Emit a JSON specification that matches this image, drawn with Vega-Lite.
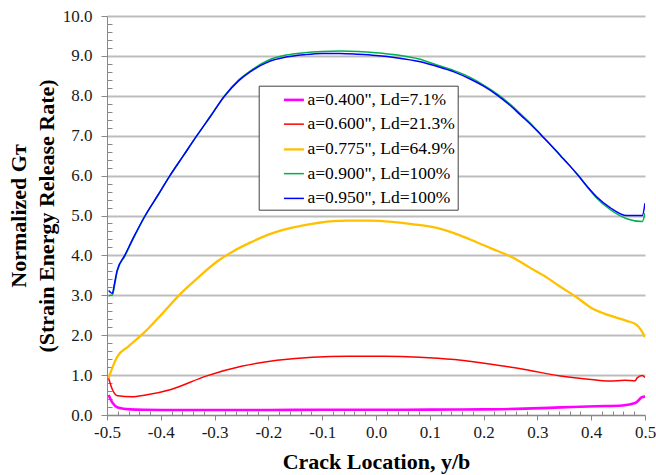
{
  "$schema": "https://vega.github.io/schema/vega-lite/v6.json",
  "width": 538,
  "height": 399,
  "autosize": {"type": "none"},
  "padding": {"left": 107, "top": 16, "right": 11, "bottom": 60},
  "background": "white",
  "config": {"view": {"stroke": null}, "font": "Times New Roman, Liberation Serif, serif"},
  "data": {"values": [
    {"series": "a=0.400\", Ld=7.1%", "x": -0.497, "y": 0.50},
    {"series": "a=0.400\", Ld=7.1%", "x": -0.49, "y": 0.31},
    {"series": "a=0.400\", Ld=7.1%", "x": -0.48, "y": 0.19},
    {"series": "a=0.400\", Ld=7.1%", "x": -0.457, "y": 0.14},
    {"series": "a=0.400\", Ld=7.1%", "x": -0.43, "y": 0.13},
    {"series": "a=0.400\", Ld=7.1%", "x": -0.38, "y": 0.125},
    {"series": "a=0.400\", Ld=7.1%", "x": -0.3, "y": 0.125},
    {"series": "a=0.400\", Ld=7.1%", "x": -0.2, "y": 0.125},
    {"series": "a=0.400\", Ld=7.1%", "x": -0.1, "y": 0.13},
    {"series": "a=0.400\", Ld=7.1%", "x": 0.0, "y": 0.13},
    {"series": "a=0.400\", Ld=7.1%", "x": 0.1, "y": 0.135},
    {"series": "a=0.400\", Ld=7.1%", "x": 0.2, "y": 0.14},
    {"series": "a=0.400\", Ld=7.1%", "x": 0.277, "y": 0.16},
    {"series": "a=0.400\", Ld=7.1%", "x": 0.343, "y": 0.19},
    {"series": "a=0.400\", Ld=7.1%", "x": 0.409, "y": 0.22},
    {"series": "a=0.400\", Ld=7.1%", "x": 0.458, "y": 0.24},
    {"series": "a=0.400\", Ld=7.1%", "x": 0.482, "y": 0.30},
    {"series": "a=0.400\", Ld=7.1%", "x": 0.495, "y": 0.45},
    {"series": "a=0.400\", Ld=7.1%", "x": 0.5, "y": 0.46},

    {"series": "a=0.600\", Ld=21.3%", "x": -0.497, "y": 0.92},
    {"series": "a=0.600\", Ld=21.3%", "x": -0.49, "y": 0.64},
    {"series": "a=0.600\", Ld=21.3%", "x": -0.48, "y": 0.48},
    {"series": "a=0.600\", Ld=21.3%", "x": -0.454, "y": 0.455},
    {"series": "a=0.600\", Ld=21.3%", "x": -0.428, "y": 0.50},
    {"series": "a=0.600\", Ld=21.3%", "x": -0.381, "y": 0.64},
    {"series": "a=0.600\", Ld=21.3%", "x": -0.316, "y": 0.975},
    {"series": "a=0.600\", Ld=21.3%", "x": -0.25, "y": 1.22},
    {"series": "a=0.600\", Ld=21.3%", "x": -0.184, "y": 1.37},
    {"series": "a=0.600\", Ld=21.3%", "x": -0.118, "y": 1.45},
    {"series": "a=0.600\", Ld=21.3%", "x": -0.052, "y": 1.47},
    {"series": "a=0.600\", Ld=21.3%", "x": 0.014, "y": 1.47},
    {"series": "a=0.600\", Ld=21.3%", "x": 0.08, "y": 1.45},
    {"series": "a=0.600\", Ld=21.3%", "x": 0.146, "y": 1.39},
    {"series": "a=0.600\", Ld=21.3%", "x": 0.211, "y": 1.28},
    {"series": "a=0.600\", Ld=21.3%", "x": 0.277, "y": 1.14},
    {"series": "a=0.600\", Ld=21.3%", "x": 0.343, "y": 0.975},
    {"series": "a=0.600\", Ld=21.3%", "x": 0.409, "y": 0.876},
    {"series": "a=0.600\", Ld=21.3%", "x": 0.435, "y": 0.85},
    {"series": "a=0.600\", Ld=21.3%", "x": 0.462, "y": 0.87},
    {"series": "a=0.600\", Ld=21.3%", "x": 0.482, "y": 0.86},
    {"series": "a=0.600\", Ld=21.3%", "x": 0.485, "y": 0.925},
    {"series": "a=0.600\", Ld=21.3%", "x": 0.495, "y": 0.99},
    {"series": "a=0.600\", Ld=21.3%", "x": 0.5, "y": 0.94},

    {"series": "a=0.775\", Ld=64.9%", "x": -0.497, "y": 0.93},
    {"series": "a=0.775\", Ld=64.9%", "x": -0.481, "y": 1.46},
    {"series": "a=0.775\", Ld=64.9%", "x": -0.46, "y": 1.72},
    {"series": "a=0.775\", Ld=64.9%", "x": -0.432, "y": 2.05},
    {"series": "a=0.775\", Ld=64.9%", "x": -0.4, "y": 2.5},
    {"series": "a=0.775\", Ld=64.9%", "x": -0.364, "y": 3.03},
    {"series": "a=0.775\", Ld=64.9%", "x": -0.33, "y": 3.45},
    {"series": "a=0.775\", Ld=64.9%", "x": -0.296, "y": 3.84},
    {"series": "a=0.775\", Ld=64.9%", "x": -0.266, "y": 4.1},
    {"series": "a=0.775\", Ld=64.9%", "x": -0.234, "y": 4.32},
    {"series": "a=0.775\", Ld=64.9%", "x": -0.2, "y": 4.52},
    {"series": "a=0.775\", Ld=64.9%", "x": -0.173, "y": 4.64},
    {"series": "a=0.775\", Ld=64.9%", "x": -0.14, "y": 4.74},
    {"series": "a=0.775\", Ld=64.9%", "x": -0.11, "y": 4.81},
    {"series": "a=0.775\", Ld=64.9%", "x": -0.08, "y": 4.86},
    {"series": "a=0.775\", Ld=64.9%", "x": -0.054, "y": 4.87},
    {"series": "a=0.775\", Ld=64.9%", "x": -0.011, "y": 4.87},
    {"series": "a=0.775\", Ld=64.9%", "x": 0.03, "y": 4.84},
    {"series": "a=0.775\", Ld=64.9%", "x": 0.07, "y": 4.78},
    {"series": "a=0.775\", Ld=64.9%", "x": 0.113, "y": 4.69},
    {"series": "a=0.775\", Ld=64.9%", "x": 0.145, "y": 4.56},
    {"series": "a=0.775\", Ld=64.9%", "x": 0.175, "y": 4.40},
    {"series": "a=0.775\", Ld=64.9%", "x": 0.215, "y": 4.17},
    {"series": "a=0.775\", Ld=64.9%", "x": 0.255, "y": 3.94},
    {"series": "a=0.775\", Ld=64.9%", "x": 0.285, "y": 3.70},
    {"series": "a=0.775\", Ld=64.9%", "x": 0.317, "y": 3.45},
    {"series": "a=0.775\", Ld=64.9%", "x": 0.342, "y": 3.22},
    {"series": "a=0.775\", Ld=64.9%", "x": 0.373, "y": 2.95},
    {"series": "a=0.775\", Ld=64.9%", "x": 0.403, "y": 2.66},
    {"series": "a=0.775\", Ld=64.9%", "x": 0.435, "y": 2.49},
    {"series": "a=0.775\", Ld=64.9%", "x": 0.466, "y": 2.36},
    {"series": "a=0.775\", Ld=64.9%", "x": 0.4845, "y": 2.26},
    {"series": "a=0.775\", Ld=64.9%", "x": 0.493, "y": 2.12},
    {"series": "a=0.775\", Ld=64.9%", "x": 0.5, "y": 1.95},

    {"series": "a=0.900\", Ld=100%", "x": -0.497, "y": 2.98},
    {"series": "a=0.900\", Ld=100%", "x": -0.494, "y": 3.0},
    {"series": "a=0.900\", Ld=100%", "x": -0.49, "y": 3.0},
    {"series": "a=0.900\", Ld=100%", "x": -0.486, "y": 3.25},
    {"series": "a=0.900\", Ld=100%", "x": -0.481, "y": 3.6},
    {"series": "a=0.900\", Ld=100%", "x": -0.467, "y": 3.98},
    {"series": "a=0.900\", Ld=100%", "x": -0.45, "y": 4.45},
    {"series": "a=0.900\", Ld=100%", "x": -0.429, "y": 4.99},
    {"series": "a=0.900\", Ld=100%", "x": -0.405, "y": 5.51},
    {"series": "a=0.900\", Ld=100%", "x": -0.383, "y": 6.0},
    {"series": "a=0.900\", Ld=100%", "x": -0.358, "y": 6.5},
    {"series": "a=0.900\", Ld=100%", "x": -0.333, "y": 7.0},
    {"series": "a=0.900\", Ld=100%", "x": -0.307, "y": 7.5},
    {"series": "a=0.900\", Ld=100%", "x": -0.281, "y": 8.01},
    {"series": "a=0.900\", Ld=100%", "x": -0.255, "y": 8.4},
    {"series": "a=0.900\", Ld=100%", "x": -0.234, "y": 8.62},
    {"series": "a=0.900\", Ld=100%", "x": -0.2, "y": 8.89},
    {"series": "a=0.900\", Ld=100%", "x": -0.167, "y": 9.02},
    {"series": "a=0.900\", Ld=100%", "x": -0.133, "y": 9.08},
    {"series": "a=0.900\", Ld=100%", "x": -0.1, "y": 9.11},
    {"series": "a=0.900\", Ld=100%", "x": -0.067, "y": 9.12},
    {"series": "a=0.900\", Ld=100%", "x": -0.033, "y": 9.11},
    {"series": "a=0.900\", Ld=100%", "x": 0.0, "y": 9.08},
    {"series": "a=0.900\", Ld=100%", "x": 0.04, "y": 9.02},
    {"series": "a=0.900\", Ld=100%", "x": 0.08, "y": 8.92},
    {"series": "a=0.900\", Ld=100%", "x": 0.113, "y": 8.77},
    {"series": "a=0.900\", Ld=100%", "x": 0.145, "y": 8.63},
    {"series": "a=0.900\", Ld=100%", "x": 0.175, "y": 8.46},
    {"series": "a=0.900\", Ld=100%", "x": 0.2, "y": 8.27},
    {"series": "a=0.900\", Ld=100%", "x": 0.227, "y": 8.03},
    {"series": "a=0.900\", Ld=100%", "x": 0.25, "y": 7.78},
    {"series": "a=0.900\", Ld=100%", "x": 0.27, "y": 7.53},
    {"series": "a=0.900\", Ld=100%", "x": 0.29, "y": 7.27},
    {"series": "a=0.900\", Ld=100%", "x": 0.308, "y": 7.01},
    {"series": "a=0.900\", Ld=100%", "x": 0.326, "y": 6.75},
    {"series": "a=0.900\", Ld=100%", "x": 0.343, "y": 6.5},
    {"series": "a=0.900\", Ld=100%", "x": 0.36, "y": 6.25},
    {"series": "a=0.900\", Ld=100%", "x": 0.376, "y": 6.0},
    {"series": "a=0.900\", Ld=100%", "x": 0.393, "y": 5.71},
    {"series": "a=0.900\", Ld=100%", "x": 0.41, "y": 5.44},
    {"series": "a=0.900\", Ld=100%", "x": 0.435, "y": 5.15},
    {"series": "a=0.900\", Ld=100%", "x": 0.466, "y": 4.92},
    {"series": "a=0.900\", Ld=100%", "x": 0.495, "y": 4.85},
    {"series": "a=0.900\", Ld=100%", "x": 0.5, "y": 5.06},

    {"series": "a=0.950\", Ld=100%", "x": -0.497, "y": 3.12},
    {"series": "a=0.950\", Ld=100%", "x": -0.494, "y": 3.08},
    {"series": "a=0.950\", Ld=100%", "x": -0.49, "y": 3.05},
    {"series": "a=0.950\", Ld=100%", "x": -0.486, "y": 3.3},
    {"series": "a=0.950\", Ld=100%", "x": -0.481, "y": 3.63},
    {"series": "a=0.950\", Ld=100%", "x": -0.467, "y": 4.0},
    {"series": "a=0.950\", Ld=100%", "x": -0.45, "y": 4.47},
    {"series": "a=0.950\", Ld=100%", "x": -0.429, "y": 5.0},
    {"series": "a=0.950\", Ld=100%", "x": -0.405, "y": 5.52},
    {"series": "a=0.950\", Ld=100%", "x": -0.383, "y": 6.0},
    {"series": "a=0.950\", Ld=100%", "x": -0.358, "y": 6.5},
    {"series": "a=0.950\", Ld=100%", "x": -0.333, "y": 7.0},
    {"series": "a=0.950\", Ld=100%", "x": -0.307, "y": 7.5},
    {"series": "a=0.950\", Ld=100%", "x": -0.281, "y": 8.0},
    {"series": "a=0.950\", Ld=100%", "x": -0.255, "y": 8.38},
    {"series": "a=0.950\", Ld=100%", "x": -0.234, "y": 8.6},
    {"series": "a=0.950\", Ld=100%", "x": -0.2, "y": 8.85},
    {"series": "a=0.950\", Ld=100%", "x": -0.167, "y": 8.97},
    {"series": "a=0.950\", Ld=100%", "x": -0.133, "y": 9.03},
    {"series": "a=0.950\", Ld=100%", "x": -0.1, "y": 9.06},
    {"series": "a=0.950\", Ld=100%", "x": -0.067, "y": 9.06},
    {"series": "a=0.950\", Ld=100%", "x": -0.033, "y": 9.04},
    {"series": "a=0.950\", Ld=100%", "x": 0.0, "y": 9.01},
    {"series": "a=0.950\", Ld=100%", "x": 0.04, "y": 8.95},
    {"series": "a=0.950\", Ld=100%", "x": 0.08, "y": 8.86},
    {"series": "a=0.950\", Ld=100%", "x": 0.113, "y": 8.74},
    {"series": "a=0.950\", Ld=100%", "x": 0.145, "y": 8.6},
    {"series": "a=0.950\", Ld=100%", "x": 0.175, "y": 8.42},
    {"series": "a=0.950\", Ld=100%", "x": 0.2, "y": 8.24},
    {"series": "a=0.950\", Ld=100%", "x": 0.227, "y": 8.0},
    {"series": "a=0.950\", Ld=100%", "x": 0.25, "y": 7.75},
    {"series": "a=0.950\", Ld=100%", "x": 0.27, "y": 7.5},
    {"series": "a=0.950\", Ld=100%", "x": 0.29, "y": 7.25},
    {"series": "a=0.950\", Ld=100%", "x": 0.308, "y": 7.0},
    {"series": "a=0.950\", Ld=100%", "x": 0.326, "y": 6.75},
    {"series": "a=0.950\", Ld=100%", "x": 0.343, "y": 6.5},
    {"series": "a=0.950\", Ld=100%", "x": 0.36, "y": 6.25},
    {"series": "a=0.950\", Ld=100%", "x": 0.376, "y": 6.0},
    {"series": "a=0.950\", Ld=100%", "x": 0.393, "y": 5.72},
    {"series": "a=0.950\", Ld=100%", "x": 0.41, "y": 5.47},
    {"series": "a=0.950\", Ld=100%", "x": 0.435, "y": 5.2},
    {"series": "a=0.950\", Ld=100%", "x": 0.466, "y": 5.0},
    {"series": "a=0.950\", Ld=100%", "x": 0.495, "y": 5.0},
    {"series": "a=0.950\", Ld=100%", "x": 0.5, "y": 5.31}
  ]},
  "mark": {"type": "line", "clip": true, "interpolate": "monotone"},
  "encoding": {
    "x": {
      "field": "x", "type": "quantitative",
      "scale": {"domain": [-0.5, 0.5], "nice": false, "zero": false},
      "axis": {
        "values": [-0.5,-0.48,-0.46,-0.44,-0.42,-0.4,-0.38,-0.36,-0.34,-0.32,-0.3,-0.28,-0.26,-0.24,-0.22,-0.2,-0.18,-0.16,-0.14,-0.12,-0.1,-0.08,-0.06,-0.04,-0.02,0,0.02,0.04,0.06,0.08,0.1,0.12,0.14,0.16,0.18,0.2,0.22,0.24,0.26,0.28,0.3,0.32,0.34,0.36,0.38,0.4,0.42,0.44,0.46,0.48,0.5],
        "labelExpr": "abs(datum.value*10 - round(datum.value*10)) < 0.001 ? replace(format(datum.value, '.1f'), '\u2212', '-') : ''",
        "labelOverlap": false, "labelBound": false, "labelFlush": false,
        "labelFont": "Times New Roman, Liberation Serif, serif", "labelFontSize": 17, "labelColor": "#1a1a1a", "labelPadding": 4,
        "tickSize": {"condition": {"test": "abs(datum.value*10 - round(datum.value*10)) < 0.001", "value": 5}, "value": -4},
        "tickColor": "#888888", "domainColor": "#888888", "domainWidth": 1, "tickWidth": 1,
        "grid": false,
        "title": "Crack Location, y/b",
        "titleFont": "Times New Roman, Liberation Serif, serif", "titleFontSize": 22, "titleFontWeight": "bold", "titleColor": "#000000",
        "titleBaseline": "alphabetic", "titleY": 53, "titleX": 269
      }
    },
    "y": {
      "field": "y", "type": "quantitative",
      "scale": {"domain": [0, 10], "nice": false, "zero": false},
      "axis": {
        "values": [0,0.2,0.4,0.6,0.8,1,1.2,1.4,1.6,1.8,2,2.2,2.4,2.6,2.8,3,3.2,3.4,3.6,3.8,4,4.2,4.4,4.6,4.8,5,5.2,5.4,5.6,5.8,6,6.2,6.4,6.6,6.8,7,7.2,7.4,7.6,7.8,8,8.2,8.4,8.6,8.8,9,9.2,9.4,9.6,9.8,10],
        "labelExpr": "abs(datum.value - round(datum.value)) < 0.001 ? format(datum.value, '.1f') : ''",
        "labelOverlap": false, "labelBound": false, "labelFlush": false,
        "labelFont": "Times New Roman, Liberation Serif, serif", "labelFontSize": 17, "labelColor": "#1a1a1a", "labelPadding": 9,
        "tickSize": {"condition": {"test": "abs(datum.value - round(datum.value)) < 0.001", "value": 6}, "value": -5},
        "tickColor": "#888888", "domainColor": "#888888", "domainWidth": 1, "tickWidth": 1,
        "grid": true,
        "gridColor": "#bdbdbd", "gridWidth": 1.8,
        "gridOpacity": {"condition": {"test": "abs(datum.value - round(datum.value)) < 0.001", "value": 1}, "value": 0},
        "title": ["Normalized Gᴛ", "(Strain Energy Release Rate)"],
        "titleFont": "Times New Roman, Liberation Serif, serif", "titleFontSize": 22, "titleFontWeight": "bold", "titleColor": "#000000",
        "titleLineHeight": 28, "titleBaseline": "alphabetic", "titleAlign": "center", "titleAngle": -90,
        "titleX": -82, "titleY": 199.5
      }
    },
    "color": {
      "field": "series", "type": "nominal",
      "scale": {
        "domain": ["a=0.400\", Ld=7.1%", "a=0.600\", Ld=21.3%", "a=0.775\", Ld=64.9%", "a=0.900\", Ld=100%", "a=0.950\", Ld=100%"],
        "range": ["#ff00ff", "#ff0000", "#ffc000", "#00b050", "#0000ff"]
      },
      "legend": {
        "title": null, "orient": "none", "legendX": 151.7, "legendY": 69.7,
        "symbolType": "stroke", "symbolSize": 400,
        "labelFont": "Times New Roman, Liberation Serif, serif", "labelFontSize": 17.5, "labelColor": "#000000", "labelLimit": 400,
        "labelExpr": "datum.label + '\u00a0\u00a0\u00a0\u00a0'",
        "strokeColor": "#404040", "fillColor": "#ffffff", "padding": 2.7, "rowPadding": 4.75,
        "symbolOffset": 21, "labelOffset": 2
      }
    },
    "strokeWidth": {
      "field": "series", "type": "nominal",
      "scale": {
        "type": "ordinal",
        "domain": ["a=0.400\", Ld=7.1%", "a=0.600\", Ld=21.3%", "a=0.775\", Ld=64.9%", "a=0.900\", Ld=100%", "a=0.950\", Ld=100%"],
        "range": [2.6, 1.5, 2.3, 1.5, 1.5]
      },
      "legend": {
        "title": null, "orient": "none", "legendX": 151.7, "legendY": 69.7,
        "symbolType": "stroke", "symbolSize": 400,
        "labelFont": "Times New Roman, Liberation Serif, serif", "labelFontSize": 17.5, "labelColor": "#000000", "labelLimit": 400,
        "labelExpr": "datum.label + '\u00a0\u00a0\u00a0\u00a0'",
        "strokeColor": "#404040", "fillColor": "#ffffff", "padding": 2.7, "rowPadding": 4.75,
        "symbolOffset": 21, "labelOffset": 2
      }
    }
  }
}
